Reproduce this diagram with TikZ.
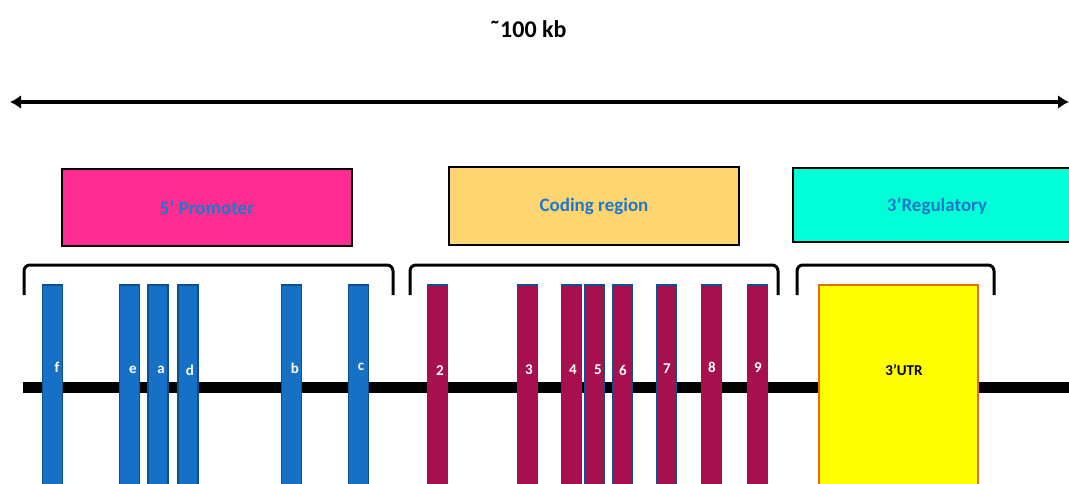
\documentclass[tikz,border=0pt]{standalone}
\usepackage{fontspec}
\setmainfont{Carlito}
\usetikzlibrary{arrows.meta}
\definecolor{promo}{HTML}{FF2D92}
\definecolor{coding}{HTML}{FFD571}
\definecolor{regul}{HTML}{00FFD6}
\definecolor{txtblue}{HTML}{1F78C9}
\definecolor{exblue}{HTML}{1570C6}
\definecolor{exblueb}{HTML}{0F4F8F}
\definecolor{excrim}{HTML}{A7104F}
\definecolor{utrfill}{HTML}{FFFF00}
\definecolor{utrline}{HTML}{E46C0A}
\tikzset{
  region/.style={draw=black, line width=2pt, minimum height=76pt, inner sep=0pt, font=\fontsize{19}{22}\selectfont\bfseries, text=txtblue},
  brace/.style={line width=3pt, rounded corners=6pt},
  exonb/.style={draw=exblueb, fill=exblue, line width=1.5pt, minimum width=20pt, minimum height=220pt, inner sep=0pt},
  exonr/.style={draw=exblueb, fill=excrim, line width=1.5pt, minimum width=20pt, minimum height=220pt, inner sep=0pt},
  exlbl/.style={text=white, font=\fontsize{15}{17}\selectfont\bfseries, inner sep=0pt},
}
\begin{document}
\begin{tikzpicture}[x=1pt, y=-1pt]
\useasboundingbox (0,0) rectangle (1069,484);
\clip (0,0) rectangle (1069,484);
% title
\node[font=\fontsize{24}{28}\selectfont\bfseries, inner sep=0pt] (title) at (528,29) {˜100 kb};
% scale arrow
\coordinate (al) at (10,102);
\coordinate (ar) at (1069,102);
\draw[line width=3.5pt, {Latex[length=11pt,width=14pt]}-{Latex[length=11pt,width=14pt]}] (al) -- (ar);
% region boxes
\node[region, fill=promo, minimum width=290pt] (promoter) at (207,207.5) {5’ Promoter};
\node[region, fill=coding, minimum width=290pt, minimum height=78pt] (codingbox) at (594,206) {Coding region};
\node[region, fill=regul, minimum width=300pt, minimum height=74pt, anchor=west] (regbox) at (792,205) {};
\node[font=\fontsize{19}{22}\selectfont\bfseries, text=txtblue, inner sep=0pt] (regtxt) at (937,206) {3’Regulatory};
% brackets
\draw[brace] (24,295) -- (24,265) -- (393,265) -- (393,295);
\draw[brace] (410,295) -- (410,265) -- (778,265) -- (778,295);
\draw[brace] (797,295) -- (797,265) -- (994,265) -- (994,295);
% chromosome line
\coordinate (cl) at (23,387.5);
\coordinate (cr) at (1069,387.5);
\draw[line width=11pt] (cl) -- (cr);
% blue exons
\node[exonb, anchor=north] (f) at (52.5,284) {};
\node[exonb, anchor=north] (e) at (129.5,284) {};
\node[exonb, anchor=north] (a) at (158,284) {};
\node[exonb, anchor=north] (d) at (188,284) {};
\node[exonb, anchor=north] (b) at (291.5,284) {};
\node[exonb, anchor=north] (c) at (358.5,284) {};
\node[exlbl] (lf) at (57,367) {f};
\node[exlbl] (le) at (133,370) {e};
\node[exlbl] (la) at (161,370) {a};
\node[exlbl] (ld) at (190,370) {d};
\node[exlbl] (lb) at (295,368) {b};
\node[exlbl] (lc) at (361,367) {c};
% coding exons
\node[exonr, anchor=north] (x2) at (437.5,284) {};
\node[exonr, anchor=north] (x3) at (527.5,284) {};
\node[exonr, anchor=north] (x4) at (571.5,284) {};
\node[exonr, anchor=north] (x5) at (594.5,284) {};
\node[exonr, anchor=north] (x6) at (622.5,284) {};
\node[exonr, anchor=north] (x7) at (666.5,284) {};
\node[exonr, anchor=north] (x8) at (711.5,284) {};
\node[exonr, anchor=north] (x9) at (757.5,284) {};
\node[exlbl] (l2) at (440,371) {2};
\node[exlbl] (l3) at (529,370) {3};
\node[exlbl] (l4) at (573,370) {4};
\node[exlbl] (l5) at (598,370) {5};
\node[exlbl] (l6) at (623,370) {6};
\node[exlbl] (l7) at (667,369) {7};
\node[exlbl] (l8) at (712,367) {8};
\node[exlbl] (l9) at (758,368) {9};
% 3'UTR
\node[draw=utrline, fill=utrfill, line width=1.5pt, minimum width=159pt, minimum height=220pt, anchor=north, inner sep=0pt] (utr) at (898.5,284) {};
\node[font=\fontsize{15}{17}\selectfont\bfseries, inner sep=0pt] (utrlbl) at (904,370) {3’UTR};
\end{tikzpicture}
\end{document}
